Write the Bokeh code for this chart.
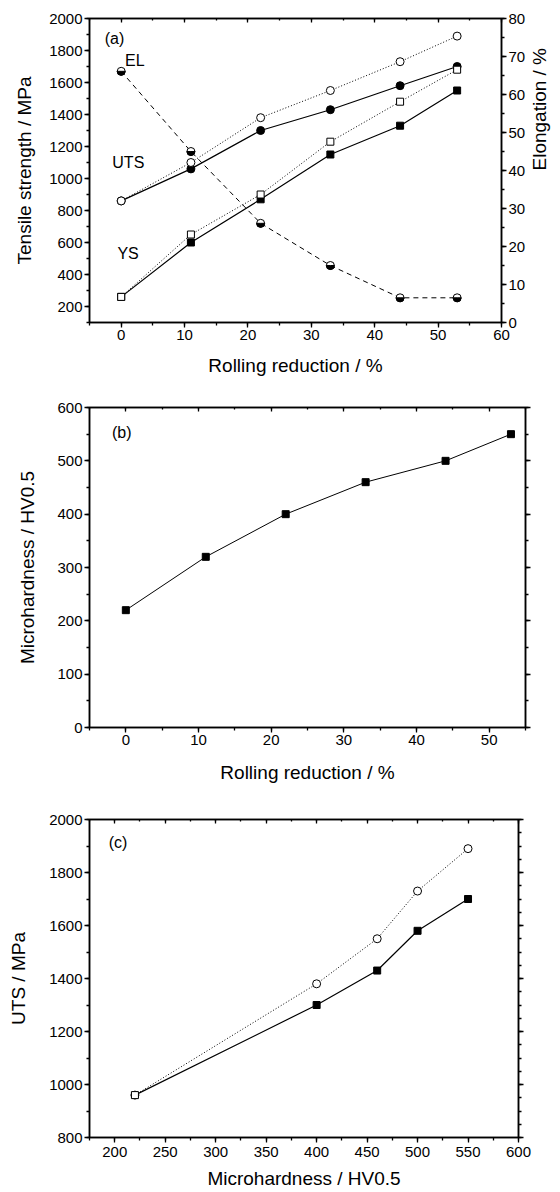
import numpy as np
from bokeh.plotting import figure
from bokeh.models import Range1d, LinearAxis, SingleIntervalTicker, Label
from bokeh.layouts import column
from bokeh.embed import file_html
from bokeh.resources import INLINE

# ---------------- data ----------------
reduction = [0, 11, 22, 33, 44, 53]
uts_filled = [860, 1060, 1300, 1430, 1580, 1700]
uts_open = [860, 1100, 1380, 1550, 1730, 1890]
ys_filled = [260, 600, 870, 1150, 1330, 1550]
ys_open = [260, 650, 900, 1230, 1480, 1680]
elongation = [66.1, 45.0, 26.1, 15.0, 6.5, 6.5]

hardness = [220, 320, 400, 460, 500, 550]

hv_c = [220, 400, 460, 500, 550]
uts_c_filled = [960, 1300, 1430, 1580, 1700]
uts_c_open = [960, 1380, 1550, 1730, 1890]

FONT = "Liberation Sans"
TICK_FS = "15px"
LAB_FS = "19px"


def style_axis(ax, ticker, labels=True, inside=False):
    ax.ticker = ticker
    ax.axis_line_width = 1.5
    ax.axis_line_color = "black"
    ax.major_tick_line_width = 1.3
    ax.minor_tick_line_width = 1.3
    ax.major_tick_line_color = "black"
    ax.minor_tick_line_color = "black"
    if inside:
        ax.major_tick_in, ax.major_tick_out = 4, 0
        ax.minor_tick_in, ax.minor_tick_out = 2, 0
    else:
        ax.major_tick_in, ax.major_tick_out = 0, 5
        ax.minor_tick_in, ax.minor_tick_out = 0, 3
    ax.major_label_text_font = FONT
    ax.major_label_text_font_size = TICK_FS
    ax.major_label_text_color = "black"
    ax.major_label_standoff = 2
    ax.axis_label_text_font = FONT
    ax.axis_label_text_font_size = LAB_FS
    ax.axis_label_text_font_style = "normal"
    ax.axis_label_text_color = "black"
    if not labels:
        ax.major_label_text_font_size = "0px"
        ax.major_label_text_color = None
        ax.major_label_standoff = 0


def base_fig(xr, yr, fw, fh, bl, bt, bb, br):
    p = figure(x_range=xr, y_range=yr, frame_width=fw, frame_height=fh,
               output_backend="svg", toolbar_location=None,
               min_border_left=bl, min_border_top=bt, min_border_bottom=bb,
               min_border_right=br)
    p.xgrid.visible = False
    p.ygrid.visible = False
    p.outline_line_color = "black"
    p.outline_line_width = 1.5
    p.background_fill_color = "white"
    p.border_fill_color = "white"
    return p


def add_label(p, x, y, text, y_range_name="default"):
    p.add_layout(Label(x=x, y=y, text=text, text_font=FONT, text_font_size="16px",
                       text_color="black", text_baseline="middle", text_align="left",
                       y_range_name=y_range_name))


# ---------------- panel (a) ----------------
pa = base_fig(Range1d(-5, 60), Range1d(100, 2000), 412, 304, 80, 18, 64, 54)
pa.extra_y_ranges = {"el": Range1d(0, 80)}
style_axis(pa.xaxis[0], SingleIntervalTicker(interval=10, num_minor_ticks=2))
pa.xaxis[0].axis_label = "Rolling reduction / %"
pa.xaxis[0].axis_label_standoff = 12
style_axis(pa.yaxis[0], SingleIntervalTicker(interval=200, num_minor_ticks=2))
pa.yaxis[0].axis_label = "Tensile strength / MPa"
pa.yaxis[0].axis_label_standoff = 11
ra = LinearAxis(y_range_name="el", axis_label="Elongation / %")
style_axis(ra, SingleIntervalTicker(interval=10, num_minor_ticks=2))
ra.axis_label_standoff = 11
ra.axis_label_orientation = np.pi / 2
pa.add_layout(ra, "right")
ta = LinearAxis()
style_axis(ta, SingleIntervalTicker(interval=10, num_minor_ticks=2), labels=False, inside=True)
pa.add_layout(ta, "above")

pa.line(reduction, uts_open, line_color="black", line_width=1, line_dash="1 2")
pa.line(reduction, ys_open, line_color="black", line_width=1, line_dash="1 2")
pa.line(reduction, uts_filled, line_color="black", line_width=1.2)
pa.line(reduction, ys_filled, line_color="black", line_width=1.2)
pa.line(reduction, elongation, line_color="black", line_width=1, line_dash="5 4", y_range_name="el")

pa.scatter(reduction, uts_filled, marker="circle", size=8, fill_color="black", line_color="black")
pa.scatter(reduction, ys_filled, marker="square", size=7, fill_color="black", line_color="black")
pa.scatter(reduction, uts_open, marker="circle", size=8, fill_color="white", line_color="black", line_width=1)
pa.scatter(reduction, ys_open, marker="square", size=7, fill_color="white", line_color="black", line_width=1)
pa.scatter(reduction, elongation, marker="circle", size=8, fill_color="white", line_color="black",
           line_width=1, y_range_name="el")
pa.wedge(reduction, elongation, radius=4, radius_units="screen", start_angle=np.pi,
         end_angle=2 * np.pi, fill_color="black", line_color="black", y_range_name="el")

add_label(pa, -2.6, 1875, "(a)")
add_label(pa, 0.6, 1735, "EL")
add_label(pa, -1.4, 1100, "UTS")
add_label(pa, -0.6, 530, "YS")

# ---------------- panel (b) ----------------
pb = base_fig(Range1d(-5, 55), Range1d(0, 600), 436, 320, 83, 21, 66, 25)
style_axis(pb.xaxis[0], SingleIntervalTicker(interval=10, num_minor_ticks=2))
pb.xaxis[0].axis_label = "Rolling reduction / %"
pb.xaxis[0].axis_label_standoff = 14
style_axis(pb.yaxis[0], SingleIntervalTicker(interval=100, num_minor_ticks=2))
pb.yaxis[0].axis_label = "Microhardness / HV0.5"
pb.yaxis[0].axis_label_standoff = 16
tb = LinearAxis()
style_axis(tb, SingleIntervalTicker(interval=10, num_minor_ticks=2), labels=False, inside=True)
pb.add_layout(tb, "above")
rb = LinearAxis()
style_axis(rb, SingleIntervalTicker(interval=100, num_minor_ticks=2), labels=False)
pb.add_layout(rb, "right")

pb.line(reduction, hardness, line_color="black", line_width=1)
pb.scatter(reduction, hardness, marker="square", size=7, fill_color="black", line_color="black")
add_label(pb, -1.9, 553, "(b)")

# ---------------- panel (c) ----------------
pc = base_fig(Range1d(175, 600), Range1d(800, 2000), 429, 318, 89, 26, 47, 26)
style_axis(pc.xaxis[0], SingleIntervalTicker(interval=50, num_minor_ticks=2))
pc.xaxis[0].axis_label = "Microhardness / HV0.5"
pc.xaxis[0].axis_label_standoff = 8
pc.xaxis[0].major_label_standoff = 4
style_axis(pc.yaxis[0], SingleIntervalTicker(interval=200, num_minor_ticks=2))
pc.yaxis[0].axis_label = "UTS / MPa"
pc.yaxis[0].axis_label_standoff = 17
tc = LinearAxis()
style_axis(tc, SingleIntervalTicker(interval=50, num_minor_ticks=2), labels=False, inside=True)
pc.add_layout(tc, "above")
rc = LinearAxis()
style_axis(rc, SingleIntervalTicker(interval=200, num_minor_ticks=4), labels=False)
pc.add_layout(rc, "right")

pc.line(hv_c, uts_c_open, line_color="black", line_width=1, line_dash="1 2")
pc.line(hv_c, uts_c_filled, line_color="black", line_width=1.2)
pc.scatter(hv_c, uts_c_open, marker="circle", size=8, fill_color="white", line_color="black", line_width=1)
pc.scatter(hv_c, uts_c_filled, marker="square", size=7,
           fill_color=["white", "black", "black", "black", "black"], line_color="black", line_width=1)
add_label(pc, 194, 1914, "(c)")

layout = column(pa, pb, pc, spacing=0)
open("out.html", "w").write(file_html(layout, INLINE))
